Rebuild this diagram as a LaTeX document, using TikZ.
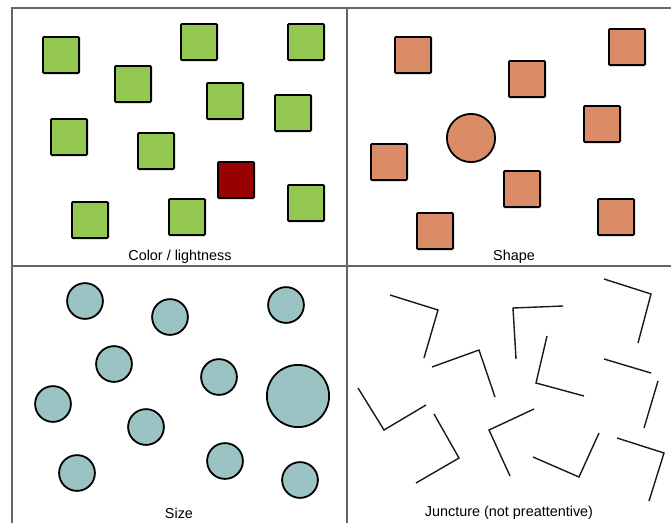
\documentclass[tikz,border=0pt]{standalone}
\usepackage{fontspec}
\setmainfont{Liberation Sans}
\usetikzlibrary{positioning}
\definecolor{leaf}{HTML}{93C750}
\definecolor{brick}{HTML}{990000}
\definecolor{clay}{HTML}{D98C66}
\definecolor{sea}{HTML}{9CC3C3}
\definecolor{frame}{HTML}{666666}

\begin{document}
\begin{tikzpicture}[x=1pt, y=-1pt, sq/.style={draw, line width=1.8pt, rounded corners=1pt, minimum size=36.2pt, inner sep=0pt}, dot/.style={draw, circle, line width=1.8pt, fill=sea, minimum size=35.8pt, inner sep=0pt}, caption/.style={font=\fontsize{14.4}{16}\selectfont, inner sep=0pt}, elbow/.style={line width=1.4pt, line join=miter, draw=black!90}]
\useasboundingbox (0,0) rectangle (671,522);
\clip (0,0) rectangle (671,522);
% panel frame
\draw[line width=2pt, frame] (12,8) rectangle (700,560);
\draw[line width=2pt, frame] (347,8) -- (347,560);
\draw[line width=2pt, frame] (12,266) -- (700,266);
% color / lightness
\node[sq, fill=leaf] (g1) at (61,55) {}; \node[sq, fill=leaf] (g2) at (133,84) {}; \node[sq, fill=leaf] (g3) at (199,42) {}; \node[sq, fill=leaf] (g4) at (306,42) {};
\node[sq, fill=leaf] (g5) at (225,101) {}; \node[sq, fill=leaf] (g6) at (293,113) {}; \node[sq, fill=leaf] (g7) at (69,137) {}; \node[sq, fill=leaf] (g8) at (156,151) {};
\node[sq, fill=brick] (odd) at (236,180) {};
\node[sq, fill=leaf] (g9) at (306,203) {}; \node[sq, fill=leaf] (g10) at (90,220) {}; \node[sq, fill=leaf] (g11) at (187,217) {};
\node[caption] (lblcolor) at (180,257) {Color / lightness};
% shape
\node[sq, fill=clay] (o1) at (413,55) {}; \node[sq, fill=clay] (o2) at (527,79) {}; \node[sq, fill=clay] (o3) at (627,47) {}; \node[sq, fill=clay] (o4) at (602,124) {};
\node[draw, circle, line width=1.8pt, fill=clay, minimum size=48.2pt, inner sep=0pt] (round) at (471,138) {};
\node[sq, fill=clay] (o5) at (389,162) {}; \node[sq, fill=clay] (o6) at (522,189) {}; \node[sq, fill=clay] (o7) at (435,231) {}; \node[sq, fill=clay] (o8) at (616,217) {};
\node[caption] (lblshape) at (514,257) {Shape};
% size
\node[dot] (c1) at (85,301) {}; \node[dot] (c2) at (170,317) {}; \node[dot] (c3) at (286,305) {}; \node[dot] (c4) at (114,364) {};
\node[dot] (c5) at (219,377) {}; \node[dot, minimum size=62.2pt] (big) at (298,396) {}; \node[dot] (c6) at (53,404) {}; \node[dot] (c7) at (146,427) {};
\node[dot] (c8) at (77,473) {}; \node[dot] (c9) at (225,461) {}; \node[dot] (c10) at (300,480) {};
\node[caption] (lblsize) at (179,513) {Size};
% juncture
\draw[elbow] (390,295) -- (438,310) -- (424,358);
\draw[elbow] (516,359) -- (513,308) -- (563,306);
\draw[elbow] (604,279) -- (651,294) -- (638,343);
\draw[elbow] (432,367) -- (479,350) -- (495,397);
\draw[elbow] (547,336) -- (536,383) -- (584,396);
\draw[elbow] (604,359) -- (651,373);
\draw[elbow] (658,381) -- (644,428);
\draw[elbow] (358,388) -- (384,430) -- (426,405);
\draw[elbow] (434,414) -- (459,458) -- (416,483);
\draw[elbow] (534,409) -- (489,430) -- (510,476);
\draw[elbow] (599,433) -- (579,477) -- (533,457);
\draw[elbow] (617,438) -- (664,453) -- (649,501);
\node[caption] (lbljunct) at (509,513) {Juncture (not preattentive)};
\end{tikzpicture}
\end{document}
